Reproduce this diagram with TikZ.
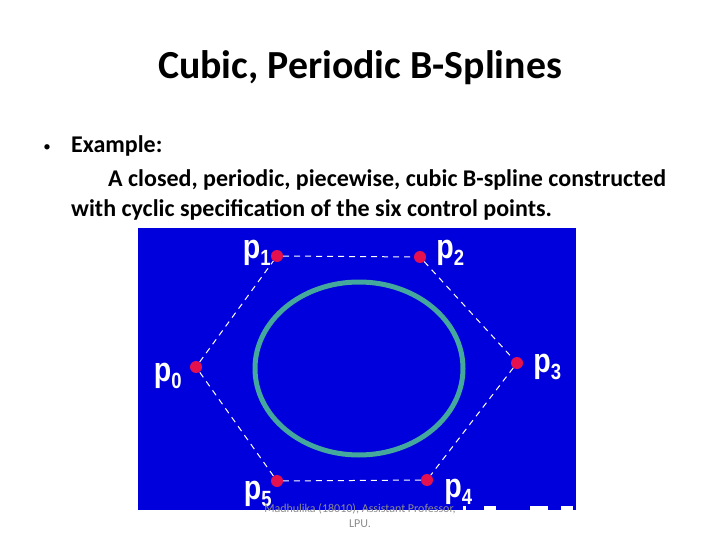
\documentclass[tikz,border=0pt]{standalone}
\usepackage{fontspec}
\usepackage{xcolor}
\usepackage{graphicx}
\setmainfont{Carlito}
\newfontfamily\etiquetafont{Liberation Sans}
\usetikzlibrary{positioning}
\definecolor{fondo}{HTML}{0000DC}
\definecolor{curva}{HTML}{45A89C}
\definecolor{punto}{HTML}{E5114F}
\definecolor{pie}{HTML}{8C8C8C}
\newcommand{\indice}[1]{\scalebox{.84}[1]{p\raisebox{-7pt}{\fontsize{22}{22}\selectfont #1}}}
\begin{document}
\begin{tikzpicture}[
  x=1pt, y=-1pt,
  titulo/.style={font=\fontsize{39.8}{44}\selectfont\bfseries, inner sep=0pt, anchor=base},
  cuerpo/.style={font=\fontsize{24}{28}\selectfont\bfseries, inner sep=0pt, anchor=base west},
  vineta/.style={font=\fontsize{15}{18}\selectfont, inner sep=0pt, anchor=base},
  control/.style={circle, fill=punto, minimum size=12pt, inner sep=0pt},
  etiqueta/.style={font=\etiquetafont\fontsize{34}{36}\selectfont\bfseries, text=white, inner sep=0pt},
  tramo/.style={draw=white, line width=1pt, dash pattern=on 6pt off 5pt},
  piepagina/.style={font=\fontsize{12}{15}\selectfont, text=pie, align=center, inner sep=0pt}
]
\useasboundingbox (0,0) rectangle (720,540);
\fill[white] (0,0) rectangle (720,540);
\fill[fondo] (138,228) rectangle (576,510);

\node[titulo] (title) at (360,79) {Cubic, Periodic B-Splines};
\node[vineta] (bullet) at (47,152) {•};
\node[cuerpo] (ejemplo) at (71,153) {Example:};
\node[cuerpo] (linea1) at (108,187) {A closed, periodic, piecewise, cubic B-spline constructed};
\node[cuerpo] (linea2) at (71,216) {with cyclic specification of the six control points.};

\draw[curva, line width=5pt] (359,368.5) ellipse (104 and 86.5);

\node[control] (p0) at (196,367) {};
\node[control] (p1) at (277,256) {};
\node[control] (p2) at (420,257) {};
\node[control] (p3) at (517,363) {};
\node[control] (p4) at (427,480) {};
\node[control] (p5) at (277,481) {};

\node[etiqueta, left=8pt of p0, yshift=-9pt] (l0) {\indice{0}};
\node[etiqueta, left=0pt of p1, yshift=3pt] (l1) {\indice{1}};
\node[etiqueta, right=10pt of p2, yshift=4pt] (l2) {\indice{2}};
\node[etiqueta, right=10pt of p3, yshift=-4pt] (l3) {\indice{3}};
\node[etiqueta, right=11pt of p4, yshift=-12pt] (l4) {\indice{4}};
\node[etiqueta, left=-1pt of p5, yshift=-13pt] (l5) {\indice{5}};

\draw[tramo] (p0) -- (p1);
\draw[tramo] (p1) -- (p2);
\draw[tramo] (p2) -- (p3);
\draw[tramo] (p3) -- (p4);
\draw[tramo] (p4) -- (p5);
\draw[tramo] (p5) -- (p0);

\fill[white] (463,506) rectangle (466,510);
\fill[white] (484,506) rectangle (496,510);
\fill[white] (530,506) rectangle (548,510);
\fill[white] (561,506) rectangle (573,510);

\node[piepagina] (autor) at (360,516) {Madhulika (18010), Assistant Professor,\\LPU.};
\end{tikzpicture}
\end{document}
